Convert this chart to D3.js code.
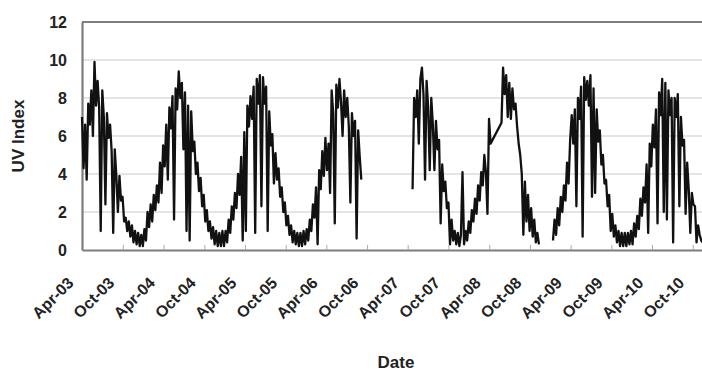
<!DOCTYPE html>
<html><head><meta charset="utf-8">
<script src="https://cdn.jsdelivr.net/npm/d3@7"></script>
<style>
html,body{margin:0;padding:0;background:#fff;}
svg{display:block;font-family:"Liberation Sans",Arial,sans-serif;}
</style></head>
<body>
<svg id="chart" width="702" height="373"></svg>
<script>
// ---- data (weekly UV index readings) ----
const segmentStarts = ["2003-04-01", "2007-04-23", "2009-01-12"];
const uv2003 = [7.0,4.3,6.6,3.7,7.7,6.6,8.4,6.0,9.9,7.6,8.9,7.5,1.0,8.4,7.0,2.4,7.2,5.9,6.6,5.2,0.9,5.3,3.9,2.0,3.9,2.6,2.8,1.5,1.7,1.0,1.5,0.7,1.3,0.4,1.0,0.3,0.9,0.2,0.8,0.2,1.1,0.5,2.0,1.2,2.4,1.5,2.9,2.1,3.4,2.5,4.6,3.0];
const uv2004 = [5.5,4.4,6.6,3.7,7.5,6.4,8.1,1.6,8.5,7.4,9.4,8.0,8.8,5.3,8.3,1.0,7.6,0.5,7.3,5.2,5.7,4.0,4.6,3.1,3.8,2.3,2.9,1.5,2.1,1.0,1.5,0.6,1.2,0.3,1.0,0.2,0.9,0.2,1.0,0.2,1.0,0.4,1.6,0.9,2.3,1.6,3.0,2.2,4.0,2.9,4.9,0.5];
const uv2005 = [6.2,1.0,7.6,6.5,8.1,6.9,8.6,0.9,9.0,7.7,9.2,2.3,9.1,7.7,8.6,1.0,7.3,5.5,6.1,3.5,5.1,3.7,4.3,2.8,3.3,2.0,2.5,1.3,1.8,0.8,1.3,0.4,1.0,0.3,0.9,0.2,0.9,0.2,1.0,0.3,1.1,0.5,1.6,1.0,2.4,1.7,3.3,0.3,4.2,3.2,5.2,3.9];
const uv2006 = [5.9,4.2,5.6,3.0,8.4,7.2,1.4,8.7,7.5,9.0,7.8,6.0,8.4,7.0,8.0,6.5,2.5,7.2,6.0,6.8,0.6,6.3,4.9,3.7];
const uv2007_08 = [3.2,8.0,7.0,8.4,5.6,9.0,9.6,8.2,3.7,8.9,7.5,4.2,8.0,6.6,4.2,6.8,5.3,5.8,1.4,4.5,3.1,3.6,2.2,2.5,0.3,1.6,0.5,1.0,0.3,0.9,0.2,0.8,4.1,0.3,1.0,0.5,1.5,0.9,2.1,1.5,2.7,1.9,3.4,2.6,4.1,3.4,5.0,4.1,1.9,6.9,5.6,null,null,null,null,null,null,6.7,9.6,8.2,9.2,7.0,8.8,6.9,8.5,7.4,7.7,6.5,5.6,5.0,4.0,0.8,3.6,1.5,2.9,1.0,2.2,0.7,1.6,0.4,0.9,0.3];
const uv2009_10 = [0.5,1.6,0.8,2.2,1.3,2.8,2.0,3.4,2.6,4.6,3.5,5.8,7.1,5.6,7.4,2.3,8.0,6.9,8.6,0.7,9.1,7.9,8.9,7.6,9.2,2.8,8.5,3.0,7.4,5.7,6.3,4.5,5.0,3.5,3.7,2.3,2.9,1.0,1.9,0.7,1.3,0.4,1.0,0.2,0.9,0.2,0.9,0.2,0.9,0.3,1.0,0.3,1.4,0.7,1.8,1.1,2.7,1.8,3.3,2.5,4.5,0.9,5.6,4.4,6.6,5.4,7.4,1.4,8.3,7.1,9.0,2.0,8.8,1.6,8.4,7.1,8.0,0.4,8.0,7.0,8.2,2.3,7.0,5.5,5.8,1.9,4.6,3.2,0.9,3.0,2.4,2.3,0.4,1.3,0.8,0.5,0.4,0.6];
const tickLabels = ["Apr-03","Oct-03","Apr-04","Oct-04","Apr-05","Oct-05","Apr-06","Oct-06","Apr-07","Oct-07","Apr-08","Oct-08","Apr-09","Oct-09","Apr-10","Oct-10"];
const yTicks = [0,2,4,6,8,10,12];

(function () {
// ---- build segments ----
const parseDay = d3.utcParse("%Y-%m-%d");
const segValues = [uv2003.concat(uv2004, uv2005, uv2006), uv2007_08, uv2009_10];
const segments = segValues.map((vals, s) => {
  const start = parseDay(segmentStarts[s]);
  return vals.map((v, i) => ({date: d3.utcDay.offset(start, 7 * i), v}))
             .filter(d => d.v !== null);
});

// ---- layout ----
const svg = d3.select("#chart");
const mLeft = 82, mTop = 22, mBottom = 250;
const xDomain = [parseDay("2003-04-01"), parseDay("2010-12-31")];
const pxPerDay = 0.2229;
const mRight = mLeft + d3.utcDay.count(xDomain[0], xDomain[1]) * pxPerDay;
const x = d3.scaleUtc().domain(xDomain).range([mLeft, mRight]);
const y = d3.scaleLinear().domain([0, 12]).range([mBottom, mTop]);

svg.append("rect").attr("width", 702).attr("height", 373).attr("fill", "#fff");

// gridlines
svg.append("g").selectAll("line").data(yTicks.filter(t => t > 0 && t < 12)).join("line")
  .attr("x1", mLeft).attr("x2", mRight)
  .attr("y1", d => y(d)).attr("y2", d => y(d))
  .attr("stroke", "#c9c9c9").attr("stroke-width", 1.2);

// frame top
const frameCol = "#7d7d7d";
svg.append("line").attr("x1", mLeft).attr("x2", mRight).attr("y1", y(12)).attr("y2", y(12))
  .attr("stroke", frameCol).attr("stroke-width", 2.2);

// x axis
const parseTick = d3.utcParse("%b-%y");
const tickDates = tickLabels.map(t => parseTick(t));
const xAxis = d3.axisBottom(x).tickValues(tickDates).tickFormat(d3.utcFormat("%b-%y"))
  .tickSizeInner(-5).tickSizeOuter(0);
const gx = svg.append("g").attr("transform", `translate(0,${mBottom})`).call(xAxis);
gx.select(".domain").attr("stroke", frameCol).attr("stroke-width", 2.2);
gx.selectAll(".tick line").attr("stroke", "#aaa");
gx.selectAll(".tick text")
  .attr("font-size", 16).attr("font-weight", "bold").attr("fill", "#222")
  .attr("text-anchor", "end").attr("dy", null).attr("y", null)
  .attr("transform", "translate(-8,34) rotate(-45)");

// y axis
const yAxis = d3.axisLeft(y).tickValues(yTicks).tickSize(0).tickPadding(15);
const gy = svg.append("g").attr("transform", `translate(${mLeft},0)`).call(yAxis);
gy.select(".domain").attr("stroke", frameCol).attr("stroke-width", 2.2);
gy.selectAll(".tick text").attr("font-size", 16).attr("font-weight", "bold").attr("fill", "#222");

// data lines
const line = d3.line().x(d => x(d.date)).y(d => y(d.v));
svg.append("g").selectAll("path").data(segments).join("path")
  .attr("d", line).attr("fill", "none").attr("stroke", "#111")
  .attr("stroke-width", 2.3).attr("stroke-linejoin", "round");

// titles
svg.append("text").attr("transform", "translate(24,136) rotate(-90)")
  .attr("text-anchor", "middle").attr("font-size", 17).attr("font-weight", "bold")
  .attr("fill", "#222").text("UV Index");
svg.append("text").attr("x", 396).attr("y", 368)
  .attr("text-anchor", "middle").attr("font-size", 17).attr("font-weight", "bold")
  .attr("fill", "#222").text("Date");
})();
</script>
</body></html>
